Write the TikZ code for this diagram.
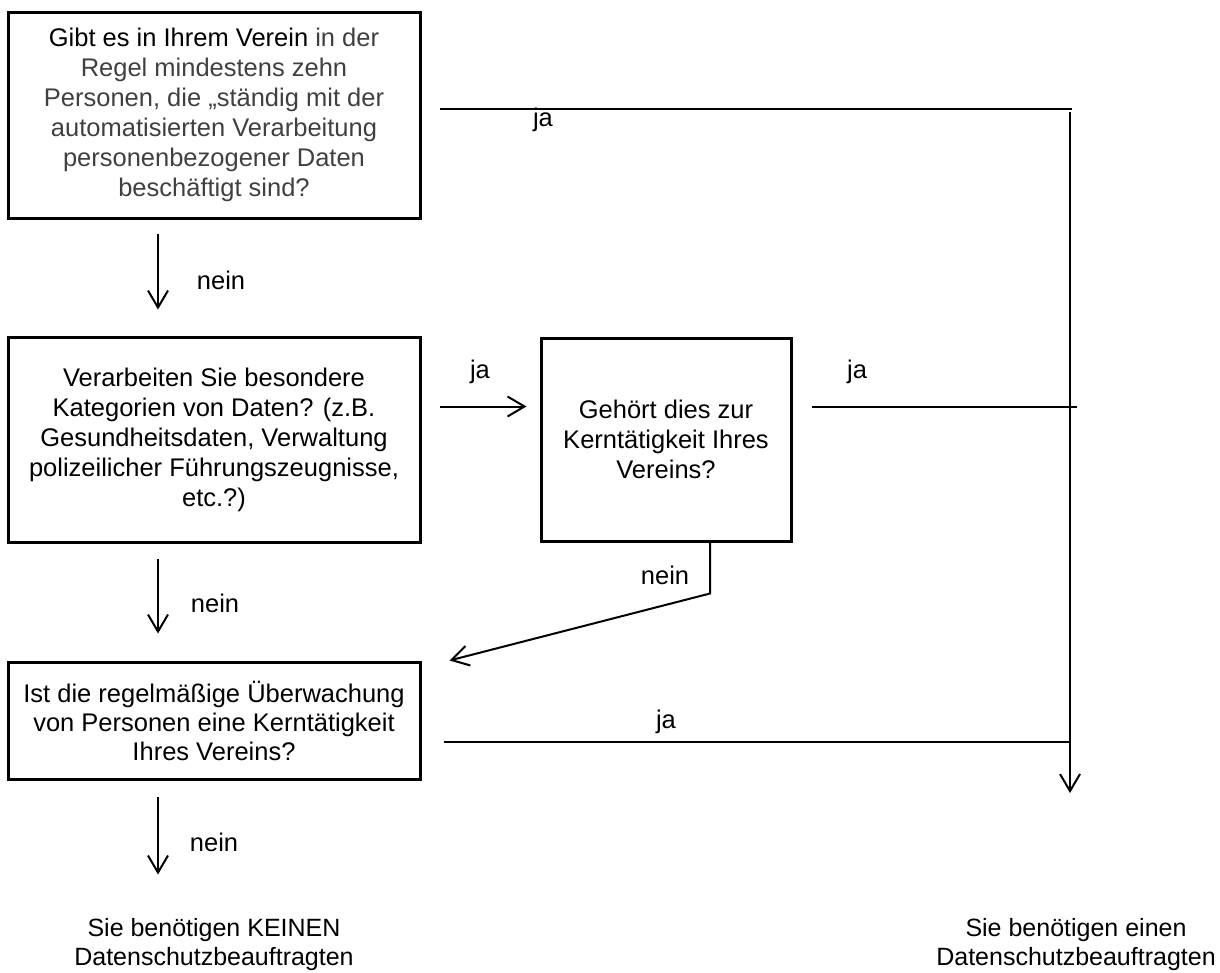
\documentclass[tikz,border=0pt]{standalone}
\usepackage{fontspec}
\setmainfont{Liberation Sans}
\usetikzlibrary{arrows.meta,positioning,calc}
\definecolor{grautext}{HTML}{404040}

\begin{document}
\begin{tikzpicture}[x=1pt,y=-1pt,
	schrift/.style={font=\fontsize{25.5}{30}\selectfont},
	frage/.style={schrift, draw=black, line width=3pt, align=center, inner sep=0pt,
		minimum width=412pt},
	marke/.style={schrift, inner sep=0pt},
	linie/.style={line width=2pt},
	pfeil/.style={line width=2pt, -{Straight Barb[length=17pt,width=20pt]}}]
\useasboundingbox (0,0) rectangle (1220,972);
% Fragen
\node [frage, minimum height=206pt] (q1) at (214,115)
	{Gibt es in Ihrem Verein \textcolor{grautext}{in der}\\
	 \color{grautext}Regel mindestens zehn\\
	 \color{grautext}Personen, die „ständig mit der\\
	 \color{grautext}automatisierten Verarbeitung\\
	 \color{grautext}personenbezogener Daten\\
	 \color{grautext}beschäftigt sind?};
\node [frage, minimum height=205pt] (q2) at (214,439.5)
	{Verarbeiten Sie besondere\\ Kategorien von Daten? (z.B.\\ Gesundheitsdaten, Verwaltung\\
	 polizeilicher Führungszeugnisse,\\ etc.?)};
\node [frage, minimum width=250pt, minimum height=203pt] (q3) at (666,439.5)
	{Gehört dies zur\\ Kerntätigkeit Ihres\\ Vereins?};
\node [frage, minimum height=117pt, font=\fontsize{25.5}{29}\selectfont] (q4) at (214,720.5)
	{Ist die regelmäßige Überwachung\\ von Personen eine Kerntätigkeit\\ Ihres Vereins?};
% Ergebnisse
\node [marke, align=center, font=\fontsize{25}{29}\selectfont] (ziel1) at (214,945)
	{Sie benötigen KEINEN\\ Datenschutzbeauftragten};
\node [marke, align=center, font=\fontsize{25}{29}\selectfont] (ziel2) at (1076,945)
	{Sie benötigen einen\\ Datenschutzbeauftragten};
\coordinate (sammel) at (1070,112);
\coordinate (sammelende) at (1070,793);
\coordinate (ende1) at (1072,109);
\coordinate (ende2) at (1077,406);
\coordinate (ende3) at (1070,742);
% nein-Pfeile
\draw [pfeil] ([xshift=-56pt,yshift=-14pt]q1.south) -- ([xshift=-56pt,yshift=26pt]q2.north);
\draw [pfeil] ([xshift=-56pt,yshift=-15pt]q2.south) -- ([xshift=-56pt,yshift=27pt]q4.north);
\draw [pfeil] ([xshift=-56pt,yshift=-16pt]q4.south) -- ++(0,78);
\draw [pfeil] ([xshift=44pt]q3.south) -- ++(0,51) -- ([xshift=28pt]q4.north east);
\node [marke] (n1) at (221,280) {nein};
\node [marke] (n2) at (215,603) {nein};
\node [marke] (n3) at (665,575) {nein};
\node [marke] (n4) at (214,842) {nein};
% ja-Linien
\draw [linie] ([xshift=18pt,yshift=6pt]q1.east) coordinate (a1) -- (a1 -| ende1);
\draw [pfeil] ([xshift=18pt,yshift=33pt]q2.east) -- ([xshift=-13pt,yshift=33pt]q3.west);
\draw [linie] ([xshift=19pt,yshift=33pt]q3.east) coordinate (a2) -- (a2 -| ende2);
\draw [linie] ([xshift=22pt,yshift=-21.5pt]q4.east) coordinate (a3) -- (a3 -| ende3);
\draw [pfeil] (sammel) -- (sammelende);
\node [marke] (j1) at (543,120) {ja};
\node [marke] (j2) at (480,372) {ja};
\node [marke] (j3) at (857,372) {ja};
\node [marke] (j4) at (666,722) {ja};
\end{tikzpicture}
\end{document}
